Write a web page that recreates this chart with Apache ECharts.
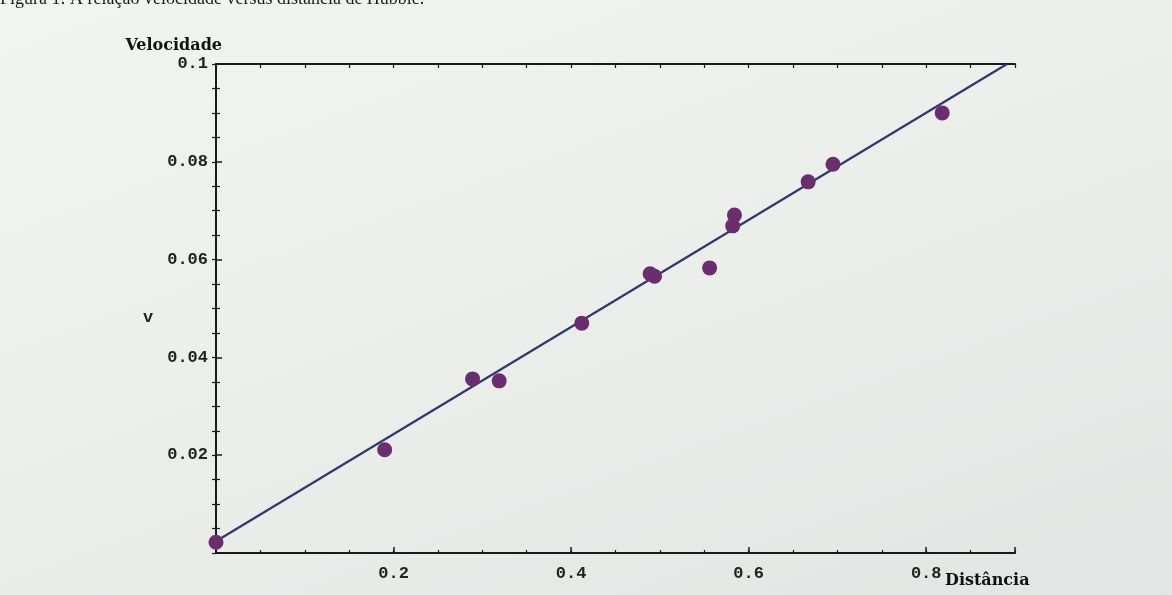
<!DOCTYPE html>
<html>
<head>
<meta charset="utf-8">
<script src="https://cdn.jsdelivr.net/npm/echarts@6/dist/echarts.min.js"></script>
<style>
  html, body { margin: 0; padding: 0; }
  body { background: linear-gradient(160deg, #f2f4f0 0%, #eaedea 55%, #e1e5e3 100%); }
  #chart { width: 1172px; height: 595px; }
</style>
</head>
<body>
<div id="chart"></div>
<script>
// Hubble: distance vs velocity
const distance = [0, 0.190, 0.289, 0.319, 0.412, 0.489, 0.494, 0.556, 0.584, 0.582, 0.667, 0.695, 0.818]
const velocity = [0.0022, 0.0211, 0.0356, 0.0352, 0.0470, 0.0571, 0.0566, 0.0583, 0.0691, 0.0669, 0.0759, 0.0795, 0.0900]

// fitted line, its two ends as drawn
const fitDistance = [0, 0.891]
const fitVelocity = [0.0024, 0.1]

const xTickLabels = ['0.2', '0.4', '0.6', '0.8']
const yTickLabels = ['0.02', '0.04', '0.06', '0.08', '0.1']

const ink = '#1a1a1a'
const monoLabel = { fontFamily: 'Liberation Mono', fontWeight: 'bold', fontSize: 17, color: '#222' }
const serifBold = { fontFamily: 'DejaVu Serif', fontWeight: 'bold', fontSize: 16, color: '#111' }

const chart = echarts.init(document.getElementById('chart'))

const fmt = (labels, digits) => v => {
  const s = String(+v.toFixed(digits))
  return labels.includes(s) ? s : ''
}

chart.setOption({
  backgroundColor: 'transparent',
  animation: false,
  grid: { left: 216, right: 157, top: 64, bottom: 42 },
  xAxis: [
    {
      type: 'value', min: 0, max: 0.9, interval: 0.2, position: 'bottom',
      axisLine: { show: true, lineStyle: { color: ink, width: 2 } },
      axisTick: { show: true, inside: true, length: 6, lineStyle: { color: ink, width: 1.5 } },
      axisLabel: { ...monoLabel, margin: 12, formatter: fmt(xTickLabels, 2) },
      splitLine: { show: false },
    },
    {
      type: 'value', min: 0, max: 0.9, interval: 0.05, position: 'bottom',
      axisLine: { show: false },
      axisTick: { show: true, inside: true, length: 3, lineStyle: { color: ink, width: 1.2 } },
      axisLabel: { show: false },
      splitLine: { show: false },
    },
    {
      type: 'value', min: 0, max: 0.9, interval: 0.05, position: 'top',
      axisLine: { show: true, lineStyle: { color: ink, width: 2 } },
      axisTick: { show: true, inside: true, length: 4, lineStyle: { color: ink, width: 1.2 } },
      axisLabel: { show: false },
      splitLine: { show: false },
    },
  ],
  yAxis: [
    {
      type: 'value', min: 0, max: 0.1, interval: 0.02, position: 'left',
      name: 'Velocidade', nameLocation: 'end', nameGap: 10,
      nameTextStyle: { ...serifBold, align: 'right', padding: [0, -6, 0, 0] },
      axisLine: { show: true, lineStyle: { color: ink, width: 2 } },
      axisTick: { show: true, inside: true, length: 6, lineStyle: { color: ink, width: 1.5 } },
      minorTick: { show: true, splitNumber: 4, length: 4, lineStyle: { color: ink, width: 1.2 } },
      axisLabel: { ...monoLabel, margin: 8, formatter: fmt(yTickLabels, 3) },
      splitLine: { show: false },
    },
    {
      type: 'value', min: 0, max: 0.1, interval: 0.02, position: 'right',
      axisLine: { show: true, lineStyle: { color: ink, width: 2 } },
      axisTick: { show: true, inside: true, length: 4, lineStyle: { color: ink, width: 1.2 } },
      minorTick: { show: true, splitNumber: 4, length: 4, lineStyle: { color: ink, width: 1.2 } },
      axisLabel: { show: false },
      splitLine: { show: false },
    },
  ],
  graphic: [
    {
      type: 'text', left: 0, top: -10,
      style: { text: 'Figura 1: A relação velocidade versus distância de Hubble.', font: '18px "Liberation Serif"', fill: '#1c1c1c' },
    },
    {
      type: 'text', left: 143, top: 309,
      style: { text: 'v', font: 'bold 17px "Liberation Mono"', fill: '#222' },
    },
    {
      type: 'text', left: 945, top: 573,
      style: { text: 'Distância', font: 'bold 16px "DejaVu Serif"', fill: '#111' },
    },
  ],
  series: [
    {
      type: 'line',
      data: fitDistance.map((d, i) => [d, fitVelocity[i]]),
      showSymbol: false,
      lineStyle: { color: '#33376f', width: 2.2 },
      z: 2,
    },
    {
      type: 'scatter',
      data: distance.map((d, i) => [d, velocity[i]]),
      symbolSize: 15,
      itemStyle: { color: '#6a2d6e', opacity: 1 },
      z: 3,
    },
  ],
})
</script>
</body>
</html>
